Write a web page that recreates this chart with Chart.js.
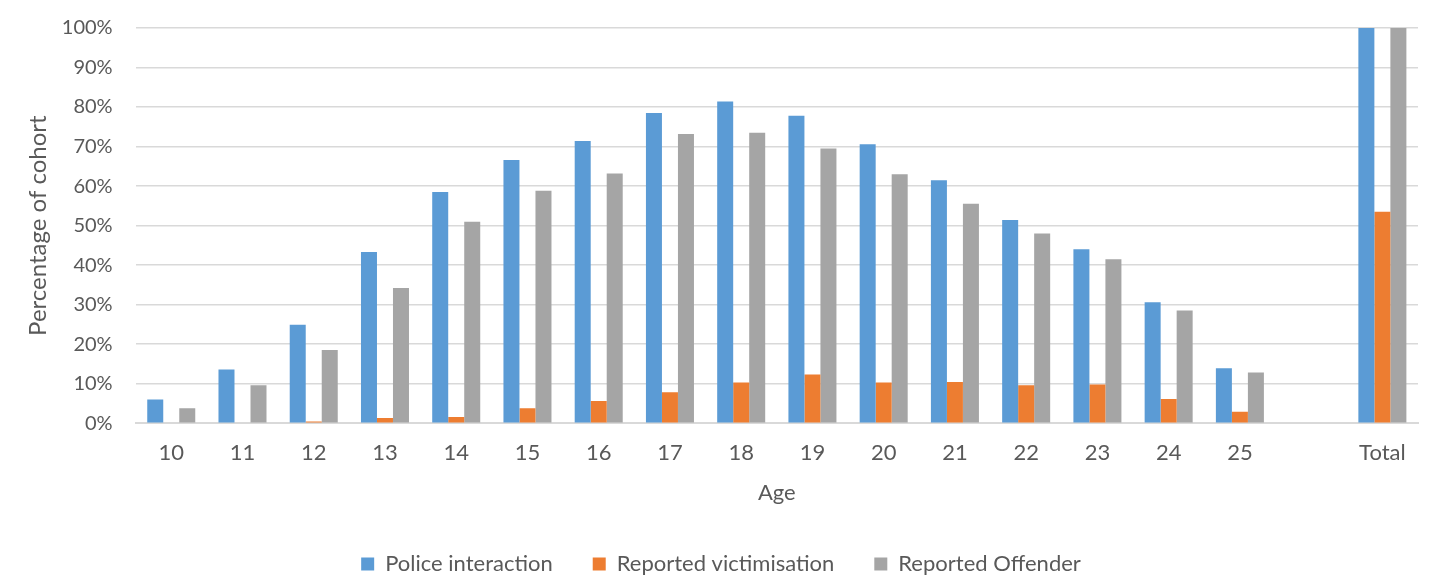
<!DOCTYPE html>
<html>
<head>
<meta charset="utf-8">
<script src="https://cdn.jsdelivr.net/npm/chart.js@4"></script>
<style>
  html, body { margin: 0; padding: 0; background: #fff; }
  #wrap { width: 1439px; height: 578px; }
</style>
</head>
<body>
<div id="wrap"><canvas id="chart"></canvas></div>
<script>
// Categories (blank slot between 25 and Total, as in the original)
const ages = ["10","11","12","13","14","15","16","17","18","19","20","21","22","23","24","25","","Total"];

// Percent of cohort per age
const policeInteraction = [6.0, 13.6, 24.9, 43.3, 58.5, 66.6, 71.4, 78.5, 81.4, 77.8, 70.6, 61.5, 51.4, 44.0, 30.6, 13.9, null, 100];
const reportedVictim    = [0, 0, 0.4, 1.3, 1.6, 3.8, 5.6, 7.8, 10.3, 12.3, 10.3, 10.4, 9.6, 9.8, 6.1, 2.9, null, 53.5];
const reportedOffender  = [3.8, 9.6, 18.5, 34.2, 51.0, 58.8, 63.2, 73.2, 73.5, 69.5, 63.0, 55.5, 48.0, 41.5, 28.5, 12.8, null, 100];

const yTicks = [0, 10, 20, 30, 40, 50, 60, 70, 80, 90, 100];

const FONT = "Lato, 'Open Sans', sans-serif";
const GREY_TEXT = "#595959";

Chart.defaults.font.family = FONT;
Chart.defaults.color = GREY_TEXT;

new Chart(document.getElementById("chart"), {
  type: "bar",
  data: {
    labels: ages,
    datasets: [
      { label: "Police interaction", data: policeInteraction, backgroundColor: "#5b9bd5" },
      { label: "Reported victimisation", data: reportedVictim, backgroundColor: "#ed7d31" },
      { label: "Reported Offender", data: reportedOffender, backgroundColor: "#a5a5a5" }
    ]
  },
  options: {
    responsive: true,
    maintainAspectRatio: false,
    animation: false,
    // negative bottom padding: the legend's own padding is used for the gap between items
    layout: { padding: { left: 24, right: 21, top: 28, bottom: -7 } },
    datasets: { bar: { categoryPercentage: 0.674, barPercentage: 1.0 } },
    plugins: {
      legend: {
        position: "bottom",
        labels: {
          boxWidth: 13, boxHeight: 13, padding: 40,
          font: { size: 22 }, color: GREY_TEXT
        }
      },
      tooltip: { enabled: false }
    },
    scales: {
      x: {
        grid: { display: false, drawTicks: false },
        border: { color: "#d9d9d9", width: 2 },
        ticks: { padding: 17, font: { size: 22 }, color: GREY_TEXT, autoSkip: false, maxRotation: 0 },
        title: { display: true, text: "Age", font: { size: 22 }, color: GREY_TEXT, padding: { top: -4, bottom: 7 } }
      },
      y: {
        min: 0, max: 100,
        afterBuildTicks: axis => { axis.ticks = yTicks.map(v => ({ value: v })); },
        // the big tick padding should only push labels left, not the plot top down
        afterFit: axis => { axis.paddingTop = 0; axis.paddingBottom = 0; },
        grid: { color: "#d9d9d9", lineWidth: 1.5, drawTicks: false },
        border: { display: false },
        ticks: { padding: 23, font: { size: 20 }, color: GREY_TEXT, callback: v => v + "%" },
        title: { display: true, text: "Percentage of cohort", font: { size: 24 }, color: GREY_TEXT, padding: { top: 0, bottom: -14 } }
      }
    }
  }
});
</script>
</body>
</html>
